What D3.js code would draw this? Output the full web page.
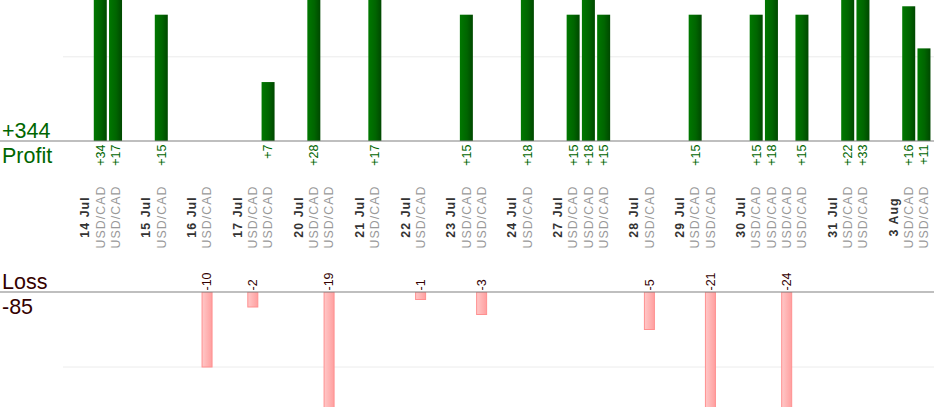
<!DOCTYPE html>
<html>
<head>
<meta charset="utf-8">
<script src="https://cdn.jsdelivr.net/npm/d3@7"></script>
<style>
  body { margin: 0; background: #fff; }
  svg { display: block; font-family: "Liberation Sans", Arial, sans-serif; }
</style>
</head>
<body>
<div id="chart"></div>
<script>
'use strict';

const days = ["14 Jul", "15 Jul", "16 Jul", "17 Jul", "20 Jul", "21 Jul", "22 Jul", "23 Jul",
    "24 Jul", "27 Jul", "28 Jul", "29 Jul", "30 Jul", "31 Jul", "3 Aug"];
const dayTrades = [[34, 17], [15], [-10], [-2, 7], [28, -19], [17], [-1], [15, -3],
    [18], [15, 18, 15], [-5], [15, -21], [15, 18, -24, 15], [22, 33], [16, 11]];
const pair = "USD/CAD";
const profitTicks = [10];
const lossTicks = [10];

const width = 934, height = 420;
const profitBase = 141, lossBase = 292, lossBottom = 407;

// one column per day label, per trade, and an empty one between days
const slots = [];
days.forEach((day, i) => {
    slots.push({type: 'day', label: day});
    dayTrades[i].forEach(v => slots.push({type: 'trade', value: v, pair: pair}));
    if (i < days.length - 1) slots.push({type: 'gap'});
});
const indexed = slots.map((s, i) => Object.assign({i: i}, s));
const trades = indexed.filter(s => s.type === 'trade');
const profits = trades.filter(t => t.value > 0);
const losses = trades.filter(t => t.value < 0);

const x = d3.scaleBand().domain(d3.range(slots.length)).range([77.4, 931.6]);
const cx = i => x(i) + x.bandwidth() / 2;
const yP = d3.scaleLinear().domain([0, 10]).range([profitBase, 56.8]);
const yL = d3.scaleLinear().domain([0, 10]).range([lossBase, 367]);

const svg = d3.select('#chart').append('svg').attr('width', width).attr('height', height);
const defs = svg.append('defs');

const gGreen = defs.append('linearGradient').attr('id', 'green');
gGreen.append('stop').attr('offset', '0%').attr('stop-color', '#007800');
gGreen.append('stop').attr('offset', '55%').attr('stop-color', '#006500');
gGreen.append('stop').attr('offset', '100%').attr('stop-color', '#004800');

const gPink = defs.append('linearGradient').attr('id', 'pink');
gPink.append('stop').attr('offset', '0%').attr('stop-color', '#ffc8c8');
gPink.append('stop').attr('offset', '100%').attr('stop-color', '#ff9f9f');

defs.append('clipPath').attr('id', 'lossClip').append('rect')
    .attr('x', 0).attr('y', lossBase).attr('width', width).attr('height', lossBottom - lossBase);

// grid lines
svg.selectAll('.pgrid').data(profitTicks).join('line')
    .attr('x1', 63).attr('x2', width).attr('y1', d => yP(d)).attr('y2', d => yP(d))
    .attr('stroke', '#ececec').attr('stroke-width', 1);
svg.selectAll('.lgrid').data(lossTicks).join('line')
    .attr('x1', 63).attr('x2', width).attr('y1', d => yL(d)).attr('y2', d => yL(d))
    .attr('stroke', '#ececec').attr('stroke-width', 1);

// profit bars
svg.append('g').selectAll('rect').data(profits).join('rect')
    .attr('x', d => cx(d.i) - 6.5).attr('width', 13)
    .attr('y', d => yP(d.value)).attr('height', d => profitBase - yP(d.value))
    .attr('fill', 'url(#green)');

// loss bars
svg.append('g').attr('clip-path', 'url(#lossClip)')
    .selectAll('rect').data(losses).join('rect')
    .attr('x', d => cx(d.i) - 5).attr('width', 10)
    .attr('y', lossBase).attr('height', d => yL(-d.value) - lossBase)
    .attr('fill', 'url(#pink)').attr('stroke', '#ff9090').attr('stroke-width', 1);

// base lines
[profitBase, lossBase].forEach(yy => {
    svg.append('line').attr('x1', 0).attr('x2', width).attr('y1', yy).attr('y2', yy)
        .attr('stroke', '#808080').attr('stroke-width', 1.2);
});

// value labels
svg.append('g').selectAll('text').data(profits).join('text')
    .attr('transform', d => `translate(${cx(d.i)},${profitBase + 3.5}) rotate(-90)`)
    .attr('dy', '0.35em').attr('text-anchor', 'end')
    .attr('font-size', 12.5).attr('fill', '#006600')
    .text(d => '+' + d.value);

svg.append('g').selectAll('text').data(losses).join('text')
    .attr('transform', d => `translate(${cx(d.i)},${lossBase - 1.5}) rotate(-90)`)
    .attr('dy', '0.35em').attr('text-anchor', 'start')
    .attr('font-size', 12.5).attr('fill', '#330000')
    .text(d => d.value);

// category labels
svg.append('g').selectAll('text').data(indexed.filter(s => s.type !== 'gap'))
    .join('text')
    .attr('transform', d => `translate(${cx(d.i)},217) rotate(-90)`)
    .attr('dy', '0.35em').attr('text-anchor', 'middle')
    .attr('font-size', 12.3).attr('letter-spacing', 1.1)
    .attr('font-weight', d => d.type === 'day' ? 'bold' : 'normal')
    .attr('fill', d => d.type === 'day' ? '#333333' : '#999999')
    .text(d => d.type === 'day' ? d.label : d.pair);

// totals
const totalProfit = d3.sum(profits, d => d.value);
const totalLoss = d3.sum(losses, d => d.value);

svg.append('text').attr('x', 2).attr('y', 137.5).attr('font-size', 21.5).attr('fill', '#006600')
    .text('+' + totalProfit);
svg.append('text').attr('x', 2).attr('y', 162.5).attr('font-size', 21.5).attr('fill', '#006600')
    .text('Profit');
svg.append('text').attr('x', 2).attr('y', 288.5).attr('font-size', 21.5).attr('fill', '#330000')
    .text('Loss');
svg.append('text').attr('x', 2).attr('y', 313.5).attr('font-size', 21.5).attr('fill', '#330000')
    .text(totalLoss);
</script>
</body>
</html>
